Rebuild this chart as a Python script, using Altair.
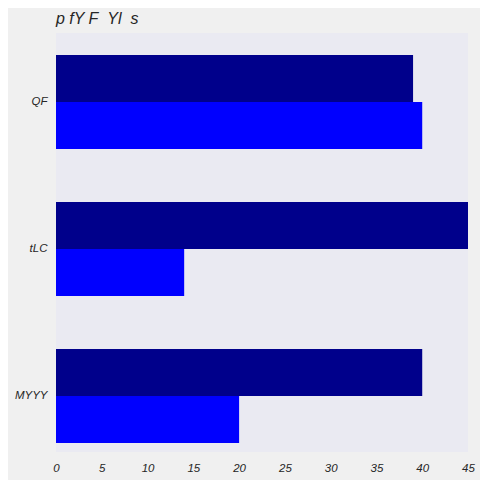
import altair as alt
import pandas as pd

categories = ["QF", "tLC", "MYYY"]
series = ["A", "B"]
values_a = [39, 45, 40]
values_b = [40, 14, 20]
x_ticks = [0, 5, 10, 15, 20, 25, 30, 35, 40, 45]
title_text = "p fY F\u00a0\u00a0Yl\u00a0\u00a0s"

rows = []
for c, a, b in zip(categories, values_a, values_b):
    rows.append({"cat": c, "series": "A", "value": a})
    rows.append({"cat": c, "series": "B", "value": b})
df = pd.DataFrame(rows)

FONT = "Liberation Sans"

chart = alt.Chart(df).mark_bar().encode(
    y=alt.Y("cat:N", sort=categories, title=None,
            scale=alt.Scale(paddingInner=0.36, paddingOuter=0.105, align=0.71),
            axis=alt.Axis(ticks=False, domain=False, labelPadding=9, labelFontSize=11.5,
                          labelFont=FONT, labelFontStyle="italic", labelColor="#262626",
                          grid=False)),
    yOffset=alt.YOffset("series:N", sort=series),
    x=alt.X("value:Q", title=None,
            scale=alt.Scale(domain=[0, 45], nice=False),
            axis=alt.Axis(values=x_ticks, ticks=False, domain=False, labelPadding=10,
                          labelFontSize=11.5, labelFont=FONT, labelFontStyle="italic",
                          labelColor="#262626", grid=False, labelFlush=False)),
    color=alt.Color("series:N", sort=series,
                    scale=alt.Scale(domain=series, range=["#00008b", "#0000ff"]),
                    legend=None),
).properties(
    width=412,
    height=419,
    title=alt.TitleParams(title_text, anchor="start", frame="group", fontSize=16, font=FONT,
                          fontStyle="italic", fontWeight="normal", color="#262626",
                          offset=6),
    autosize=alt.AutoSizeParams(type="none"),
    padding={"left": 48, "top": 25, "right": 12, "bottom": 28},
    background="#f0f0f0",
).configure_view(
    fill="#eaeaf2", stroke=None
)

chart.save("out.html", embed_options={"renderer": "svg", "actions": False})
